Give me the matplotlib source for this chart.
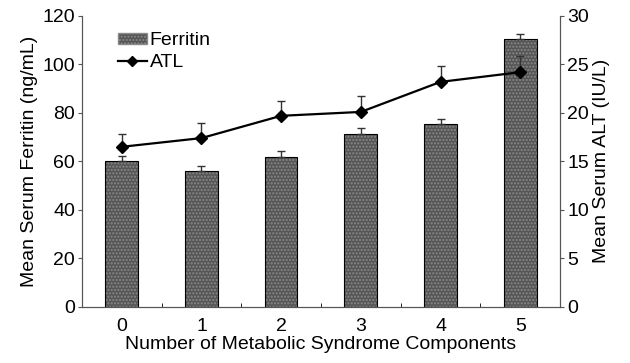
import matplotlib.pyplot as plt
import numpy as np
from matplotlib.patches import Patch
from matplotlib.lines import Line2D

plt.rcParams['font.family'] = ['Liberation Sans', 'DejaVu Sans']

components = [0, 1, 2, 3, 4, 5]
ferritin = [60.2, 55.9, 61.9, 71.3, 75.6, 110.6]
ferritin_err = [2.1, 2.0, 2.2, 2.4, 2.0, 2.0]
alt = [16.5, 17.4, 19.7, 20.1, 23.2, 24.2]
alt_err = [1.3, 1.6, 1.5, 1.6, 1.6, 1.7]

fs = 14

fig = plt.figure(figsize=(6.3, 3.63), dpi=100)
ax = fig.add_axes([0.130, 0.155, 0.759, 0.801])
ax2 = ax.twinx()

x = np.array(components)
ax.bar(x, ferritin, width=0.41, color='#555555', edgecolor='#8a8a8a',
       hatch='.....', linewidth=0, zorder=2)
ax.bar(x, ferritin, width=0.41, fill=False, edgecolor='black', linewidth=0.8, zorder=3)
ax.errorbar(x, ferritin, yerr=[np.zeros(6), ferritin_err], fmt='none',
            ecolor='#333333', elinewidth=1, capsize=3, zorder=3)

ax2.errorbar(x, alt, yerr=[np.zeros(6), alt_err], fmt='none',
             ecolor='#333333', elinewidth=1, capsize=3, zorder=3)
ax2.plot(x, alt, color='black', marker='D', markersize=6, linewidth=1.6, zorder=4)

ax.set_xlim(-0.5, 5.5)
ax.set_ylim(0, 120)
ax2.set_ylim(0, 30)
ax.set_yticks(range(0, 121, 20))
ax2.set_yticks(range(0, 31, 5))
ax.set_xticks(components)
ax.set_xticks(np.arange(0.5, 5, 1), minor=True)
ax.tick_params(axis='x', which='major', length=0, labelsize=fs, pad=8)
ax.tick_params(axis='x', which='minor', direction='in', length=3)
ax.tick_params(axis='y', labelsize=fs, length=3, pad=2, color='#555555')
ax2.tick_params(axis='y', labelsize=fs, length=3, pad=2, color='#555555')

for a in (ax, ax2):
    a.spines['top'].set_visible(False)
    for s in ('left', 'right', 'bottom'):
        a.spines[s].set_color('#555555')

ax.set_xlabel('Number of Metabolic Syndrome Components', fontsize=fs, labelpad=1)
ax.set_ylabel('Mean Serum Ferritin (ng/mL)', fontsize=fs, labelpad=3)
ax2.set_ylabel('Mean Serum ALT (IU/L)', fontsize=fs, labelpad=3)

handles = [Patch(facecolor='#555555', edgecolor='#8a8a8a', hatch='.....'),
           Line2D([0], [0], color='black', marker='D', markersize=5, linewidth=1.6)]
ax.legend(handles, ['Ferritin', 'ATL'], loc='upper left', bbox_to_anchor=(0.06, 0.97),
          frameon=False, fontsize=fs, handlelength=1.45, handleheight=0.5,
          handletextpad=0.15, labelspacing=0.25, borderpad=0.2, borderaxespad=0.2)

fig.savefig('out.png', dpi=100)
